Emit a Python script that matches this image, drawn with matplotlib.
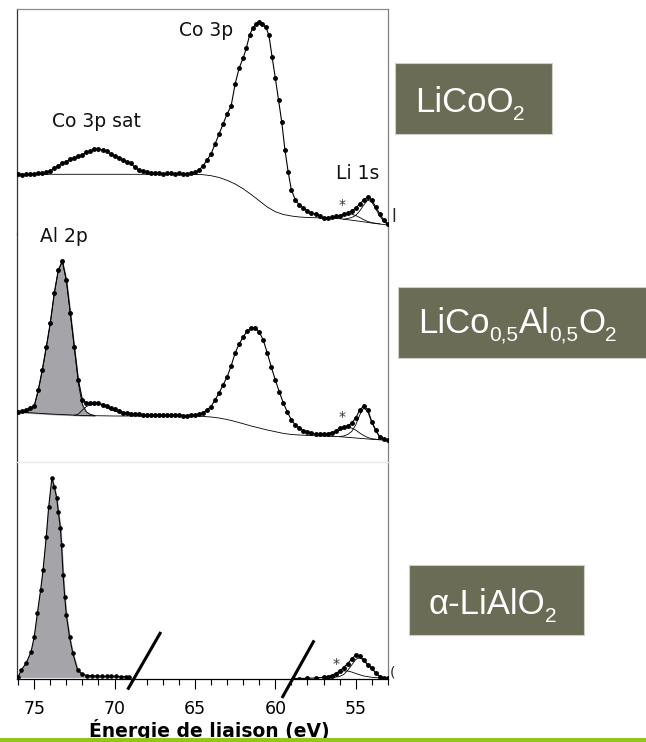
import matplotlib
matplotlib.use("Agg")
import matplotlib.pyplot as plt
from matplotlib.patches import Rectangle

# ---------------------------------------------------------------
# Data (binding energy in eV, intensity a.u.)
# ---------------------------------------------------------------
# LiCoO2 (top panel)
licoo2_E = [76, 75.75, 75.5, 75.25, 75, 74.75, 74.5, 74.25, 74, 73.75,
            73.5, 73.25, 73, 72.75, 72.5, 72.25, 72, 71.75, 71.5, 71.25,
            71, 70.75, 70.5, 70.25, 70, 69.75, 69.5, 69.25, 69, 68.75,
            68.5, 68.25, 68, 67.75, 67.5, 67.25, 67, 66.75, 66.5, 66.25,
            66, 65.75, 65.5, 65.25, 65, 64.75, 64.5, 64.25, 64, 63.75,
            63.5, 63.25, 63, 62.75, 62.5, 62.25, 62,
            61.8, 61.6, 61.4, 61.2, 61, 60.8, 60.6, 60.4, 60.2, 60, 59.8, 59.6, 59.4, 59.2,
            59, 58.75, 58.5, 58.25, 58, 57.75, 57.5, 57.25, 57, 56.75,
            56.5, 56.25, 56, 55.75, 55.5, 55.25, 55, 54.75, 54.5, 54.25,
            54, 53.75, 53.5, 53.25, 53]
licoo2_I = [59.5, 59, 59.5, 60, 60, 61, 60.5, 61.5, 63, 66,
            68, 71, 72, 75, 76, 78, 79, 82, 82.5, 85,
            85, 84, 82.5, 80, 77.5, 76, 74, 72, 70.5, 67,
            64, 63, 61.5, 61, 60.5, 60.5, 60, 60.5, 60.5, 60,
            60.5, 60, 60, 60.5, 61.5, 64, 68, 74, 80, 90,
            100, 110, 120, 128, 150, 166, 176,
            186, 199, 206, 210, 212, 210, 207, 199, 177, 156, 134, 112, 84, 62,
            44, 34, 29, 26, 23, 21, 20, 18, 16, 16,
            16.5, 17.5, 18, 19.5, 21, 23, 26, 30, 34, 37,
            34, 27, 20, 14, 10]
licoo2_bg_E = [76, 65, 64.5, 64, 63.5, 63, 62.5, 62, 61.5, 61, 60.5, 60,
               59.5, 59, 58.5, 58, 57, 56, 55, 54, 53]
licoo2_bg_I = [59.7, 59.7, 59.3, 58.3, 56.5, 53.7, 50, 45.2, 39.5, 33.2, 27, 22.3,
               19.5, 18, 17, 16.5, 16, 15.3, 13.3, 11, 9]
licoo2_star_E = [57, 56.5, 56, 55.75, 55.5, 55.25, 55, 54.75, 54.5, 54.25, 54, 53.5]
licoo2_star_I = [16, 16.8, 18.5, 19.6, 20.2, 19.8, 18.5, 16.5, 14.3, 12.5, 11.3, 10.1]
licoo2_li_E = [55.75, 55.5, 55.25, 55, 54.75, 54.5, 54.25, 54, 53.75, 53.5, 53.25, 53]
licoo2_li_I = [14.8, 15.5, 16.5, 18.5, 23, 29, 34, 32, 25, 18, 12.5, 9.5]

# LiCo0.5Al0.5O2 (middle panel)
mixed_E = [76, 75.75, 75.5, 75.25, 75, 74.75, 74.5, 74.25, 74, 73.75,
           73.5, 73.25, 73, 72.75, 72.5, 72.25, 72, 71.75, 71.5, 71.25,
           71, 70.75, 70.5, 70.25, 70, 69.75, 69.5, 69.25, 69, 68.75,
           68.5, 68.25, 68, 67.75, 67.5, 67.25, 67, 66.75, 66.5, 66.25,
           66, 65.75, 65.5, 65.25, 65, 64.75, 64.5, 64.25, 64, 63.75,
           63.5, 63.25, 63, 62.75, 62.5, 62.25, 62, 61.75, 61.5, 61.25,
           61, 60.75, 60.5, 60.25, 60, 59.75, 59.5, 59.25, 59, 58.75,
           58.5, 58.25, 58, 57.75, 57.5, 57.25, 57, 56.75, 56.5, 56.25,
           56, 55.75, 55.5, 55.25, 55, 54.75, 54.5, 54.25, 54, 53.75,
           53.5, 53.25, 53]
mixed_I = [50, 51, 52, 54, 56, 72, 92, 115, 139, 169,
           192, 201, 182, 149, 115, 82, 62, 59, 59, 59.5,
           59, 57.5, 56, 54, 53, 51, 49.5, 49, 48.5, 48,
           48, 47.5, 47.5, 47.5, 47.5, 47, 47, 47.5, 47, 47,
           47, 46.5, 46.5, 47, 47, 48, 49.5, 52, 55.5, 62,
           69, 77, 85, 96, 109, 118, 125, 131, 134, 134,
           130, 122, 109, 95, 82, 70, 59, 50, 42, 37,
           34, 31.5, 30, 29, 28, 28, 28, 28.5, 29.5, 31,
           34, 35, 36, 39, 44, 52, 56, 52, 40.5, 32,
           25, 23, 22]
mixed_bg_E = [76, 74, 72, 70, 65, 64.5, 64, 63.5, 63, 62.5, 62, 61.5, 61, 60.5,
              60, 59.5, 59, 58.5, 58, 57, 56, 55, 54, 53]
mixed_bg_I = [50, 48, 46.5, 46, 46, 45.6, 45, 44, 42.5, 40.5, 38.3, 36, 34, 32,
              30.3, 28.6, 27.5, 27, 26.6, 26, 25.3, 24, 22.7, 21.7]
mixed_al_E = [76, 75.75, 75.5, 75.25, 75, 74.75, 74.5, 74.25, 74, 73.75,
              73.5, 73.25, 73, 72.75, 72.5, 72.25, 72, 71.75, 71.5, 71.25]
mixed_al_I = [50, 50.5, 51, 53, 55.5, 71, 91, 114, 138.5, 168.5,
              191.5, 200.5, 181.5, 148, 113, 78, 57, 50, 47.5, 46.6]
mixed_al_base = [50, 49.7, 49.5, 49.2, 49, 48.8, 48.5, 48.2, 48, 47.8,
                 47.6, 47.4, 47.3, 47.1, 47, 46.8, 46.5, 46.5, 46.4, 46.3]
mixed_sat_E = [72.5, 72.25, 72, 71.75, 71.5, 71.25, 71, 70.75, 70.5, 70.25, 70, 69.5, 69, 68.5]
mixed_sat_I = [46.5, 48, 52, 55.5, 57.5, 58.5, 58, 56.5, 54.5, 52.5, 51, 48.5, 47, 46.3]
mixed_star_E = [57.5, 57, 56.5, 56, 55.75, 55.5, 55.25, 55, 54.75, 54.5, 54.25, 54, 53.5]
mixed_star_I = [26.2, 26.5, 28, 31.5, 33.5, 34.5, 34, 32, 29, 26.5, 24.5, 23.3, 22.3]
mixed_li_E = [56, 55.75, 55.5, 55.25, 55, 54.75, 54.5, 54.25, 54, 53.75, 53.5, 53.25, 53]
mixed_li_I = [25.5, 26, 27.5, 30.5, 37, 47, 54, 50.5, 39.5, 31, 25, 22.5, 21.7]

# alpha-LiAlO2 (bottom panel), two measured windows
lialo2_al_E = [76, 75.8, 75.5, 75.2, 75, 74.8, 74.6, 74.45, 74.25, 74.1,
               73.9, 73.75, 73.6, 73.5, 73.37, 73.3, 73.2, 73.1, 73, 72.8,
               72.6, 72.3, 72, 71.7, 71.4, 71.1, 70.8, 70.5, 70.2, 69.9,
               69.6, 69.3, 69.1]
lialo2_al_I = [2.3, 9, 16, 27, 42, 66, 89, 109, 142, 172,
               201, 192, 181, 167, 151, 134, 104, 82, 64, 42,
               26, 9, 4.7, 3.5, 3.2, 3, 2.8, 2.7, 2.7, 2.6,
               2.5, 2.5, 2.5]
lialo2_al_base = 2.3
lialo2_li_E = [58.9, 58.5, 58, 57.5, 57, 56.75, 56.5, 56.25, 56, 55.75,
               55.5, 55.25, 55, 54.75, 54.5, 54.25, 54, 53.75, 53.5, 53.25, 53]
lialo2_li_I = [0.4, 0.5, 0.7, 1, 1.7, 2.5, 3.5, 5.5, 8, 11.5,
               15.5, 20, 24, 23, 19, 14.5, 11, 6, 2.5, 1.3, 1]
lialo2_star_E = [57.5, 57, 56.5, 56, 55.75, 55.5, 55.25, 55, 54.5, 54, 53.5]
lialo2_star_I = [1, 1.5, 3, 6.5, 8, 8, 7, 5.5, 3, 1.7, 1.1]
lialo2_comp_E = [56.5, 56, 55.75, 55.5, 55.25, 55, 54.75, 54.5, 54.25, 54, 53.75, 53.5, 53.25]
lialo2_comp_I = [1.2, 2.5, 4.5, 8.5, 14, 19.5, 21.5, 18.5, 14, 10.5, 5.8, 2.4, 1.2]

# axis break marks (energy, intensity end points)
break_E = [(69.14, 67.17), (59.54, 57.63)]
break_I = [(-9.3, 45.7), (-17.7, 37.3)]

x_ticks = [75, 70, 65, 60, 55]
x_minor = list(range(53, 77))
# sample names as (text, is_subscript) pieces
sample_names = [
    [("LiCoO", False), ("2", True)],
    [("LiCo", False), ("0,5", True), ("Al", False), ("0,5", True), ("O", False), ("2", True)],
    [("α-LiAlO", False), ("2", True)],
]

# ---------------------------------------------------------------
W, H = 646, 742
plt.rcParams['font.family'] = 'DejaVu Sans'

fig = plt.figure(figsize=(W / 100, H / 100), dpi=100)
renderer = fig.canvas.get_renderer()


def fx(px):
    return px / W


def fy(py):
    return (H - py) / H


# panels: top / bottom in pixels
panels = [(9, 234), (234, 462), (462, 679)]
axes = []
for top, bot in panels:
    ax = fig.add_axes([fx(17), fy(bot), fx(388) - fx(17), (bot - top) / H])
    ax.set_xlim(76.07, 52.99)
    ax.set_ylim(0, bot - top)
    ax.set_yticks([])
    for s in ax.spines.values():
        s.set_linewidth(0.9)
    ax.spines['left'].set_color('#333333')
    ax.spines['right'].set_color('#808080')
    axes.append(ax)

ax1, ax2, ax3 = axes
ax1.spines['bottom'].set_visible(False)
ax1.spines['top'].set_color('#8a8a8a')
ax2.spines['top'].set_visible(False)
ax2.spines['bottom'].set_visible(False)
ax3.spines['top'].set_color('#e8e8e8')
ax3.spines['bottom'].set_color('black')
for ax in (ax1, ax2):
    ax.set_xticks([])

dot = dict(marker='o', markersize=2.5, color='black', linewidth=0.8, zorder=4)
thin = dict(color='black', linewidth=0.6, zorder=3)
fill_col = '#a4a4a9'

# top panel
ax1.plot(licoo2_bg_E, licoo2_bg_I, **thin)
ax1.plot(licoo2_star_E, licoo2_star_I, **thin)
ax1.plot(licoo2_li_E, licoo2_li_I, **thin)
ax1.plot(licoo2_E, licoo2_I, **dot)

# middle panel
ax2.fill_between(mixed_al_E, mixed_al_I, mixed_al_base, color=fill_col, zorder=2)
ax2.plot(mixed_al_E, mixed_al_I, **thin)
ax2.plot(mixed_bg_E, mixed_bg_I, **thin)
ax2.plot(mixed_sat_E, mixed_sat_I, **thin)
ax2.plot(mixed_star_E, mixed_star_I, **thin)
ax2.plot(mixed_li_E, mixed_li_I, **thin)
ax2.plot(mixed_E, mixed_I, **dot)

# bottom panel
ax3.fill_between(lialo2_al_E, lialo2_al_I, lialo2_al_base, color=fill_col, zorder=2)
ax3.plot(lialo2_star_E, lialo2_star_I, **thin)
ax3.plot(lialo2_comp_E, lialo2_comp_I, **thin)
ax3.plot(lialo2_al_E, lialo2_al_I, marker='o', markersize=2.3, color='black',
         linewidth=0.8, zorder=4)
ax3.plot(lialo2_li_E, lialo2_li_I, **dot)
for be, bi in zip(break_E, break_I):
    ax3.plot(be, bi, color='black', linewidth=2.2, clip_on=False, zorder=6)

ax3.set_xticks(x_ticks)
ax3.set_xticks(x_minor, minor=True)
ax3.tick_params(axis='x', which='major', direction='out', length=7, width=0.8,
                pad=8, labelsize=12.5)
ax3.tick_params(axis='x', which='minor', direction='out', length=4.5, width=0.8)

# peak labels
lab = dict(fontsize=13.5, color='#111111', ha='center', va='baseline')
ax1.text(64.31, 198, "Co 3p", **lab)
ax1.text(71.15, 107, "Co 3p sat", **lab)
ax1.text(54.88, 54.7, "Li 1s", **lab)
ax2.text(73.15, 220, "Al 2p", **lab)
star = dict(fontsize=10, color='#333333', ha='center', va='center')
ax1.text(55.85, 29, "*", **star)
ax2.text(55.85, 45, "*", **star)
ax3.text(56.22, 15, "*", **star)

# x label with green bar over its lower part
fig.text(fx(209), fy(737), "Énergie de liaison (eV)", fontsize=13.5,
         fontweight='bold', ha='center', va='baseline')
fig.patches.append(Rectangle((0, 0), 1, 4.5 / H, transform=fig.transFigure,
                             facecolor='#92c51e', edgecolor='none', zorder=10))

# sample boxes
boxes = [(395, 552, 63, 134, 415, 112),
         (398, 660, 287, 358, 418, 333),
         (409, 584, 565, 635, 428, 614)]
for (x0, x1, y0, y1, tx, ty), pieces in zip(boxes, sample_names):
    fig.patches.append(Rectangle((fx(x0), fy(y1)), fx(x1) - fx(x0), (y1 - y0) / H,
                                 transform=fig.transFigure, facecolor='#6b6c55',
                                 edgecolor='#cfcfc6', linewidth=0.8, zorder=5))
    xpos = tx
    for txt, sub in pieces:
        t = fig.text(fx(xpos), fy(ty + (8 if sub else 0)), txt, color='white',
                     fontsize=15 if sub else 25, family='Liberation Sans',
                     ha='left', va='baseline', zorder=6)
        xpos = t.get_window_extent(renderer).x1

# clipped remnants at the right edge of the frame
fig.text(fx(391), fy(222), "l", fontsize=12, color='#222222', va='baseline')
fig.text(fx(390), fy(676), "(", fontsize=10, color='#222222', va='baseline')

fig.savefig("out.png", dpi=100)
